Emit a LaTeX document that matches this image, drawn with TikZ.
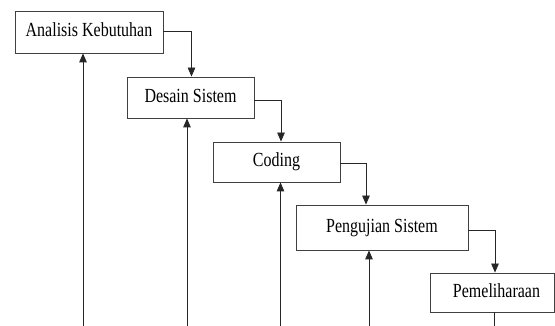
\documentclass[tikz,border=0pt]{standalone}
\usepackage{fontspec}
\setmainfont{Liberation Serif}
\usetikzlibrary{arrows.meta}
\begin{document}
\begin{tikzpicture}[x=1pt,y=-1pt,
  stage/.style={draw=black!75, line width=0.8pt, fill=white, inner sep=0pt,
    text height=14pt, text depth=4pt,
    font=\fontsize{20}{24}\selectfont},
  flow/.style={draw=black!85, line width=0.8pt, -{Triangle[length=9pt,width=7.5pt]}},
  plain/.style={draw=black!85, line width=0.8pt}
]
\useasboundingbox (0,0) rectangle (555,326);

% waterfall stages
\node[stage, minimum width=148pt, minimum height=42pt] (b1) at (89,32)
  {\scalebox{0.8}[1]{Analisis Kebutuhan}};
\node[stage, minimum width=127pt, minimum height=41pt] (b2) at (190.5,97.5)
  {\scalebox{0.8}[1]{Desain Sistem}\hspace{18pt}};
\node[stage, minimum width=127pt, minimum height=40pt] (b3) at (276.5,162)
  {\scalebox{0.8}[1]{Coding}};
\node[stage, minimum width=172pt, minimum height=45pt] (b4) at (382,227.5)
  {\scalebox{0.8}[1]{Pengujian Sistem}};
\node[stage, minimum width=124pt, minimum height=39pt] (b5) at (492,292.5)
  {\hspace{9pt}\scalebox{0.8}[1]{Pemeliharaan}};

% forward flow between stages
\draw[flow] ([yshift=1pt]b1.east) -| ([xshift=1pt]b2.north);
\draw[flow] ([yshift=-2.5pt]b2.east) -| ([xshift=4.5pt]b3.north);
\draw[flow] ([yshift=-1pt]b3.east) -| ([xshift=-16pt]b4.north);
\draw[flow] ([yshift=-2.5pt]b4.east) -| ([xshift=3pt]b5.north);

% feedback lines rising from below
\coordinate (f1) at (83,326);
\coordinate (f2) at (187,326);
\coordinate (f3) at (280.5,326);
\coordinate (f4) at (369,326);
\coordinate (f5) at (494,326);
\draw[flow] (f1) -- (f1 |- b1.south);
\draw[flow] (f2) -- (f2 |- b2.south);
\draw[flow] (f3) -- (f3 |- b3.south);
\draw[flow] (f4) -- (f4 |- b4.south);
\draw[plain] (b5.south -| f5) -- (f5);
\end{tikzpicture}
\end{document}
